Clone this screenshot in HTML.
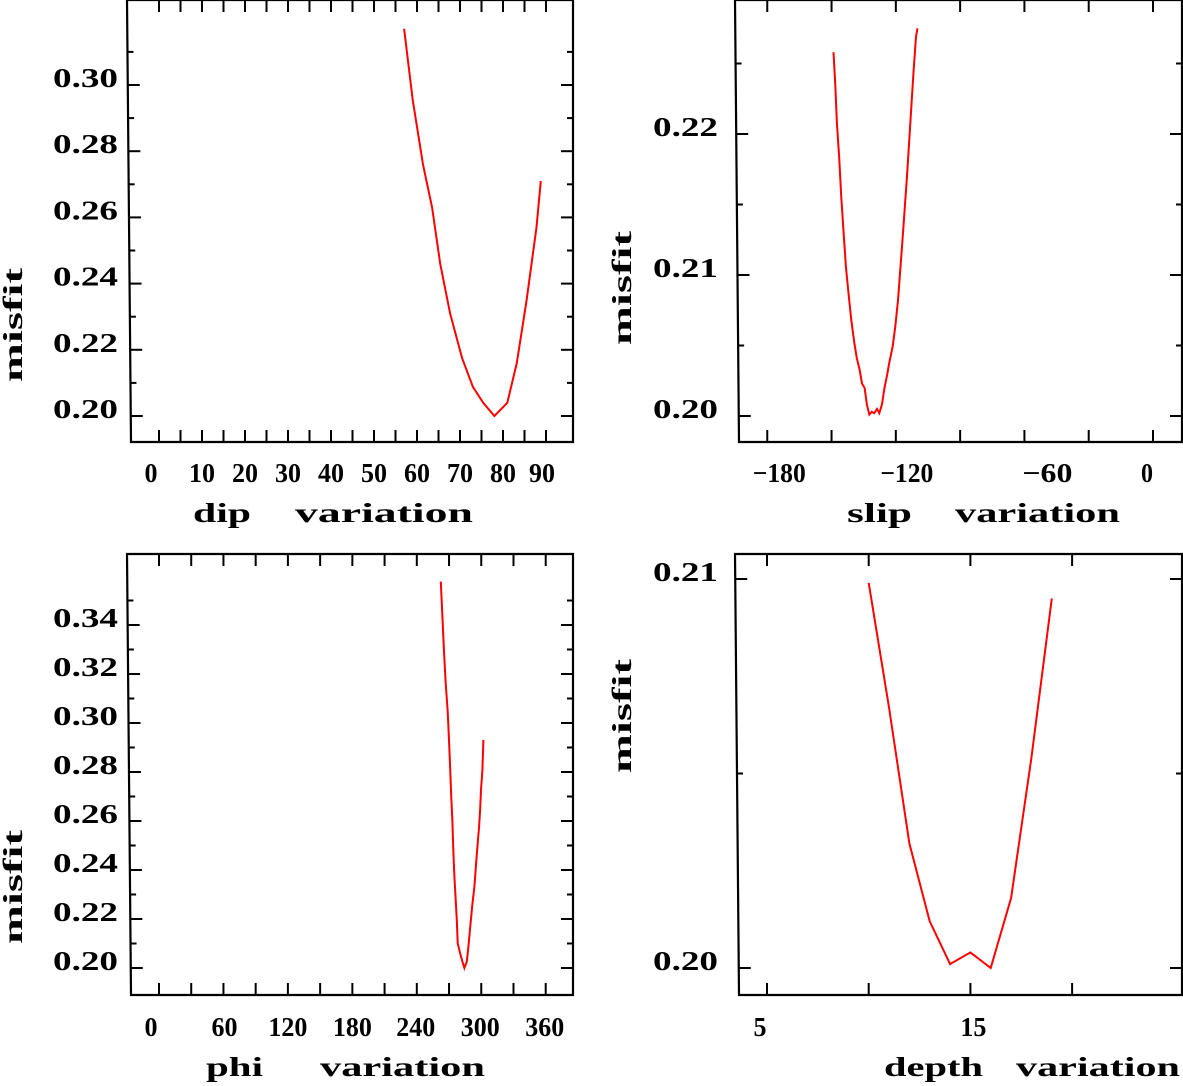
<!DOCTYPE html>
<html><head><meta charset="utf-8"><style>
html,body{margin:0;padding:0;background:#fff;}
svg{display:block;}
text{font-family:"Liberation Serif",serif;font-weight:bold;fill:#000;}
</style></head>
<body>
<svg id="fig" width="1183" height="1086" viewBox="0 0 1183 1086" xmlns="http://www.w3.org/2000/svg"></svg>
<script>
// ---------- DATA ----------
const dipX = [57, 59, 61.4, 63.5, 65.4, 67.7, 70.5, 73, 75.4, 78, 81, 83.2, 85.5, 87.8, 88.8];
const dipMisfit = [0.317, 0.2955, 0.276, 0.263, 0.246, 0.231, 0.2175, 0.2088, 0.204, 0.200, 0.204, 0.216, 0.235, 0.257, 0.271];

const slipX = [-149.1,-148.3,-147.5,-146.4,-145.5,-144.4,-143.3,-142.1,-140.8,-139.4,-138.2,-136.9,-135.8,-134.6,-133.5,-132.4,-131.2,-130.1,-128.8,-127.7,-126.5,-125.3,-124.1,-122.9,-121.5,-120.3,-119.0,-117.9,-116.9,-115.9,-114.8,-113.7,-112.8,-111.7,-110.6,-109.9];
const slipMisfit = [0.2258,0.2236,0.2208,0.2182,0.2156,0.2130,0.2106,0.2087,0.2068,0.2052,0.2041,0.2033,0.2023,0.2020,0.2008,0.2001,0.2003,0.2002,0.2005,0.2002,0.2008,0.2020,0.2029,0.2039,0.2049,0.2063,0.2082,0.2104,0.2125,0.2146,0.2170,0.2196,0.2219,0.2245,0.2269,0.2275];

const phiX = [262.3,263.8,265.4,266.9,268.8,270.0,271.0,271.9,273.1,274.0,275.0,276.2,277.2,278.1,280.3,282.4,284.3,286.5,288.0,289.6,291.7,293.6,295.2,296.7,298.0,298.9,299.8,301.1,302.0];
const phiMisfit = [0.3577,0.3434,0.3284,0.3162,0.3046,0.2931,0.2822,0.2713,0.2597,0.2482,0.2373,0.2278,0.2196,0.2101,0.2060,0.2026,0.2000,0.2026,0.2087,0.2162,0.2257,0.2332,0.2427,0.2509,0.2577,0.2645,0.2727,0.2808,0.2931];

const depthX = [10, 11, 12, 13, 14, 15, 16, 17, 18, 19];
const depthMisfit = [0.2099, 0.2067, 0.2032, 0.2012, 0.2001, 0.2004, 0.2000, 0.2018, 0.2054, 0.2095];

const dipTickLabels = ["0","10","20","30","40","50","60","70","80","90"];
const slipTickLabels = ["−180","−120","−60","0"];
const phiTickLabels = ["0","60","120","180","240","300","360"];
const depthTickLabels = ["5","15"];
const dipYLabels = ["0.20","0.22","0.24","0.26","0.28","0.30"];
const slipYLabels = ["0.20","0.21","0.22"];
const phiYLabels = ["0.20","0.22","0.24","0.26","0.28","0.30","0.32","0.34"];
const depthYLabels = ["0.20","0.21"];

// ---------- DRAW ----------
const NS = "http://www.w3.org/2000/svg";
const svg = document.getElementById("fig");
function mk(tag, attrs, parent){
  const e = document.createElementNS(NS, tag);
  for (const k in attrs) e.setAttribute(k, attrs[k]);
  (parent || svg).appendChild(e);
  return e;
}
function txt(parent, s, x, y, len, anchor, rot){
  const t = mk("text", {x:x, y:y, "font-size":27, "text-anchor":anchor||"middle", textLength:len, lengthAdjust:"spacingAndGlyphs"}, parent);
  if (rot) t.setAttribute("transform", "rotate(-90 " + x + " " + y + ")");
  t.textContent = s;
  return t;
}

function panel(cfg){
  const g = mk("g", {});
  
  
  const X = cfg.x, Y = cfg.y;
  const L = cfg.left, R = cfg.right, T = cfg.top, B = cfg.bottom;
  const fr = mk("path", {d:`M${L[0]},${T} L${R},${T} L${R},${B} L${L[1]},${B} Z`, fill:"none", stroke:"#000", "stroke-width":2.2}, g);
  
  
  const lx = yy => L[0] + (L[1]-L[0])*(yy-T)/(B-T);
  const xt = mk("g", {}, g);
  
  
  cfg.xTicks.forEach(v => {
    const px = X(v);
    mk("line", {x1:px, y1:B, x2:px, y2:B-12, stroke:"#000", "stroke-width":2}, xt);
    mk("line", {x1:px, y1:T, x2:px, y2:T+12, stroke:"#000", "stroke-width":2}, xt);
  });
  const yt = mk("g", {}, g);
  
  
  cfg.yTicks.forEach(([v, major]) => {
    const py = Y(v), len = major ? 12 : 6, lxx = lx(py);
    mk("line", {x1:lxx, y1:py, x2:lxx+len, y2:py, stroke:"#000", "stroke-width":2}, yt);
    mk("line", {x1:R, y1:py, x2:R-len, y2:py, stroke:"#000", "stroke-width":2}, yt);
  });
  const xl = mk("g", {}, g);
  
  
  cfg.xLabels.forEach((s, i) => {
    const p = cfg.xLabelPos[i];
    txt(xl, s, X(p) + (cfg.xLabelShift[i]||0), cfg.xLabelBase, cfg.xLabelLen(s));
  });
  const yl = mk("g", {}, g);
  
  
  cfg.yLabels.forEach(s => {
    txt(yl, s, cfg.yLabelRight, Y(parseFloat(s)) + 2, 65, "end");
  });
  const xtA = txt(g, cfg.xTitle[0], cfg.xTitle[1], cfg.xTitleBase, cfg.xTitle[2], "start");
  
  
  const xtB = txt(g, "variation", cfg.xTitle[3], cfg.xTitleBase, cfg.xTitle[4], "start");
  
  
  const ytA = txt(g, "misfit", cfg.yTitle[0], cfg.yTitle[1], 114, "middle", true);
  
  
  const pts = cfg.xs.map((v, i) => X(v).toFixed(1) + "," + Y(cfg.ys[i]).toFixed(1)).join(" ");
  const pl = mk("polyline", {points:pts, fill:"none", stroke:"#ff0000", "stroke-width":2}, g);
  
  
}

const range = (a, b, s) => { const r = []; for (let v = a; v <= b + 1e-9; v += s) r.push(+v.toFixed(4)); return r; };
const yTicksFrom = (a, b, s) => range(a, b, s).map((v, i) => [v, i % 2 === 0]);

panel({
  name:"dip-panel",
  x: v => 159 + 4.3*v, y: v => 416 - (v-0.2)*3310,
  left:[127,131], right:573, top:0, bottom:442,
  xTicks: range(0, 90, 5), yTicks: yTicksFrom(0.20, 0.31, 0.01),
  xLabels: dipTickLabels, xLabelPos: [0,10,20,30,40,50,60,70,80,90], xLabelShift:[-8,0,0,0,0,0,0,0,0,-4],
  xLabelBase: 482, xLabelLen: s => s.length*13,
  yLabels: dipYLabels, yLabelRight: 118,
  xTitle:["dip",193,58,295,178], xTitleBase:522, yTitle:[22,325],
  xs: dipX, ys: dipMisfit
});
panel({
  name:"slip-panel",
  x: v => 1153 + 2.143*v, y: v => 416 - (v-0.2)*14100,
  left:[735,739], right:1182, top:0, bottom:442,
  xTicks: range(-180, 0, 30), yTicks: yTicksFrom(0.20, 0.225, 0.005),
  xLabels: slipTickLabels, xLabelPos: [-180,-120,-60,0], xLabelShift:[12,11,23,-6],
  xLabelBase: 482, xLabelLen: s => s.length===1 ? 12 : (s.length===3 ? 50 : 53),
  yLabels: slipYLabels, yLabelRight: 718,
  xTitle:["slip",847,65,955,165], xTitleBase:522, yTitle:[631,288],
  xs: slipX, ys: slipMisfit
});
panel({
  name:"phi-panel",
  x: v => 159 + 1.0742*v, y: v => 968 - (v-0.2)*2450,
  left:[127,131], right:573, top:554, bottom:995,
  xTicks: range(0, 360, 30), yTicks: yTicksFrom(0.20, 0.35, 0.01),
  xLabels: phiTickLabels, xLabelPos: [0,60,120,180,240,300,360], xLabelShift:[-8,1,0,0,-1,-1,-1],
  xLabelBase: 1036, xLabelLen: s => s.length*13,
  yLabels: phiYLabels, yLabelRight: 118,
  xTitle:["phi",206,57,320,165], xTitleBase:1076, yTitle:[22,887],
  xs: phiX, ys: phiMisfit
});
panel({
  name:"depth-panel",
  x: v => 767 + 20.34*(v-5), y: v => 968 - (v-0.2)*38900,
  left:[735,739], right:1182, top:554, bottom:995,
  xTicks: [5,10,15,20], yTicks: [[0.20,true],[0.205,false],[0.21,true]],
  xLabels: depthTickLabels, xLabelPos: [5,15], xLabelShift:[-7,3],
  xLabelBase: 1036, xLabelLen: s => s.length*13,
  yLabels: depthYLabels, yLabelRight: 718,
  xTitle:["depth",884,99,1016,164], xTitleBase:1076, yTitle:[631,716],
  xs: depthX, ys: depthMisfit
});
</script>
</body></html>
